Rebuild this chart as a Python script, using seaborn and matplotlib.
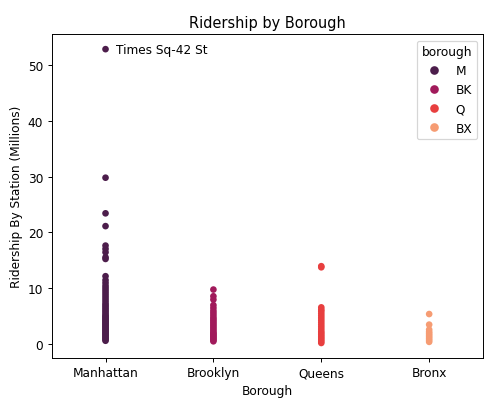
import matplotlib
matplotlib.use('Agg')
import pandas as pd
import matplotlib.pyplot as plt
import seaborn as sns

# ridership per station, millions
manhattan = [52.9, 29.8, 23.4, 21.1, 17.6, 17.0, 16.4, 15.5, 15.2, 12.1, 11.4,
             10.9, 10.4, 10.0, 9.6, 9.2, 8.8, 8.4, 8.0, 7.6, 7.2, 6.9, 6.6, 6.3,
             6.0, 5.7, 5.4, 5.1, 4.9, 4.7, 4.5, 4.3, 4.1, 3.9, 3.7, 3.5, 3.3,
             3.1, 2.9, 2.7, 2.5, 2.3, 2.1, 1.9, 1.7, 1.5, 1.3, 1.1, 0.9, 0.7, 0.5]
brooklyn = [9.7, 8.5, 7.9, 6.9, 6.4, 5.9, 5.5, 5.1, 4.7, 4.4, 4.1, 3.8, 3.5,
            3.2, 2.9, 2.6, 2.3, 2.0, 1.8, 1.6, 1.4, 1.2, 1.0, 0.8, 0.6, 0.4]
queens = [13.9, 13.7, 6.5, 6.1, 5.8, 5.4, 5.0, 4.6, 4.2, 3.8, 3.4, 3.0, 2.6,
          2.2, 1.9, 1.6, 1.3, 1.0, 0.7, 0.4, 0.1]
bronx = [5.3, 3.4, 2.5, 2.1, 1.8, 1.5, 1.2, 0.9, 0.6, 0.3]

borough_names = ['Manhattan', 'Brooklyn', 'Queens', 'Bronx']
borough_codes = ['M', 'BK', 'Q', 'BX']

rows = []
for name, code, vals in zip(borough_names, borough_codes,
                            [manhattan, brooklyn, queens, bronx]):
    for v in vals:
        rows.append({'Borough': name, 'borough': code, 'ridership': v})
df = pd.DataFrame(rows)

fig, ax = plt.subplots(figsize=(496 / 87, 403 / 87), dpi=87)
sns.stripplot(data=df, x='Borough', y='ridership', hue='borough',
              palette='rocket', jitter=False, size=5.5, ax=ax)
sns.move_legend(ax, 'upper right', title='borough', markerscale=1.3)
ax.text(0.1, manhattan[0], 'Times Sq-42 St', va='center', fontsize=10)
ax.set_title('Ridership by Borough')
ax.set_xlabel('Borough')
ax.set_ylabel('Ridership By Station (Millions)')
fig.subplots_adjust(left=0.104, right=0.974, top=0.912, bottom=0.110)
fig.savefig('out.png', dpi=87)
